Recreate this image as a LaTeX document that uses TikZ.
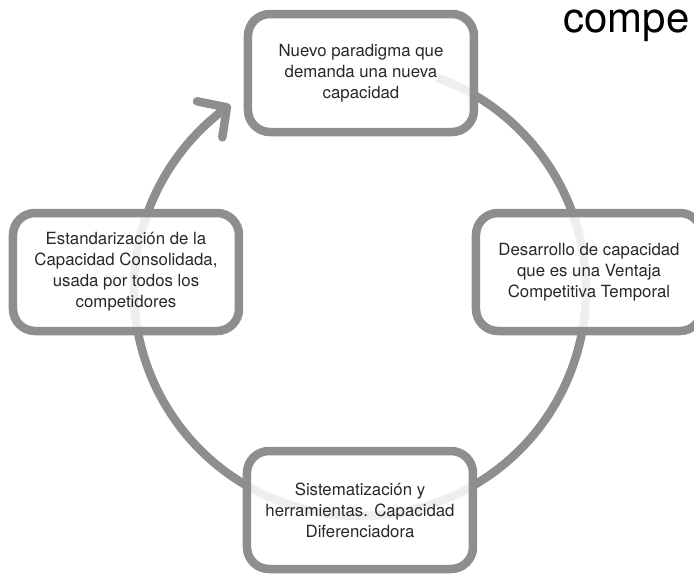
\documentclass[tikz,border=0pt]{standalone}
\usepackage{fontspec}
\setmainfont{TeX Gyre Heros}
\usetikzlibrary{arrows.meta, bending}

\definecolor{ringgray}{RGB}{142,142,142}
\definecolor{textgray}{RGB}{40,40,40}

\begin{document}
\begin{tikzpicture}[x = 1pt, y = 1pt,
	ring/.style = {draw = ringgray, line width = 8.5pt},
	stage/.style = {draw = ringgray, line width = 8.5pt, rounded corners = 22pt, fill = white, fill opacity = 0.85, text opacity = 1, text = textgray, minimum width = 226pt, minimum height = 118pt, align = center, font = \fontsize{16.8}{21}\selectfont}]

	\useasboundingbox (-360, -284) rectangle (334, 290);
	\clip (-360, -284) rectangle (334, 290);

	\draw [ring, -{Straight Barb[length = 21pt, width = 44pt, round]}] (70 : 226pt) arc (70 : -235 : 226pt);

	\node [stage] (paradigma) at (1, 217) {Nuevo paradigma que\\demanda una nueva\\capacidad};

	\node [stage] (desarrollo) at (229, 18) {Desarrollo de capacidad\\que es una Ventaja\\Competitiva Temporal};

	\node [stage] (sistematizacion) at (0, -220) {Sistematización y\\herramientas. Capacidad\\Diferenciadora};

	\node [stage] (estandarizacion) at (-234, 18) {Estandarización de la\\Capacidad Consolidada,\\usada por todos los\\competidores};

	\node [anchor = base west, inner sep = 0, font = \fontsize{42}{42}\selectfont] (titulo) at (203, 258) {compe};

\end{tikzpicture}
\end{document}
